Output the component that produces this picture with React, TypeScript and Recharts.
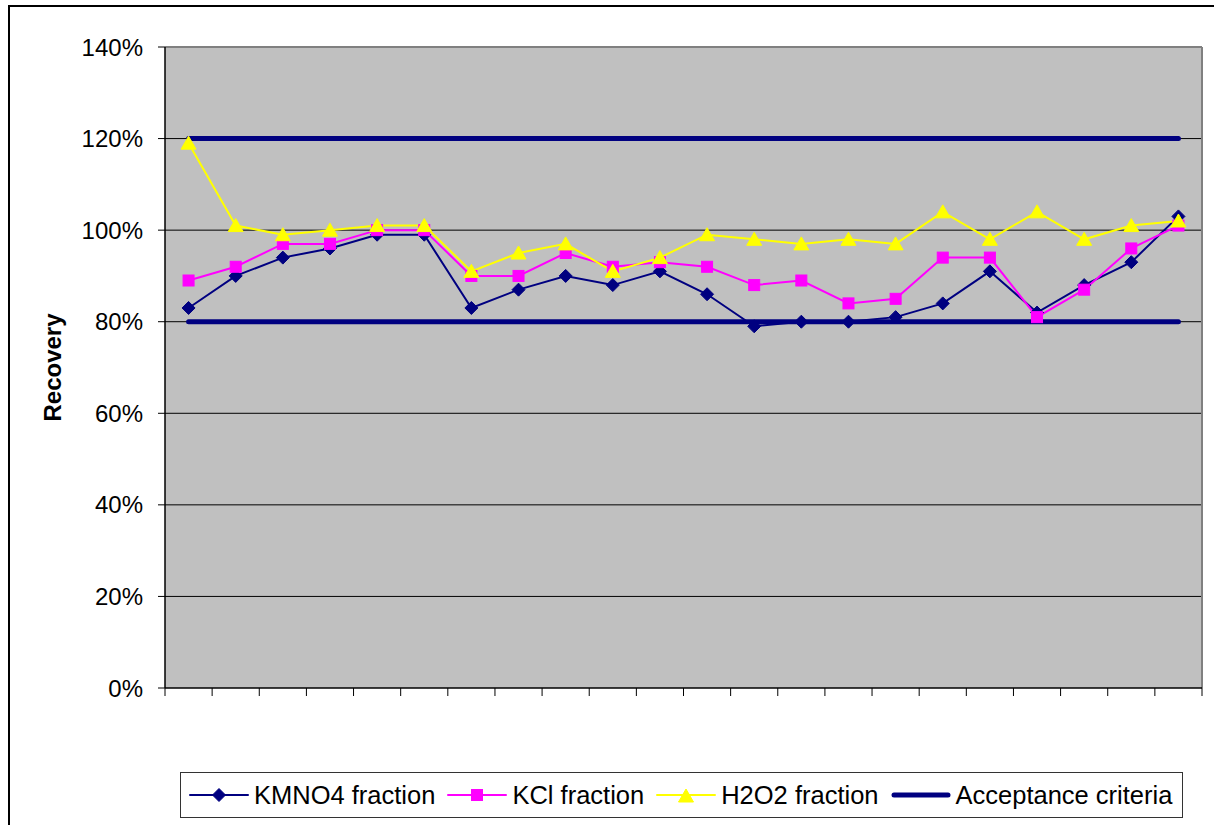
import React from 'react';
import { LineChart, Line, XAxis, YAxis, CartesianGrid, ReferenceLine } from 'recharts';

const samples = [1, 2, 3, 4, 5, 6, 7, 8, 9, 10, 11, 12, 13, 14, 15, 16, 17, 18, 19, 20, 21, 22];
const kmno4 = [83, 90, 94, 96, 99, 99, 83, 87, 90, 88, 91, 86, 79, 80, 80, 81, 84, 91, 82, 88, 93, 103];
const kcl = [89, 92, 97, 97, 100, 100, 90, 90, 95, 92, 93, 92, 88, 89, 84, 85, 94, 94, 81, 87, 96, 101];
const h2o2 = [119, 101, 99, 100, 101, 101, 91, 95, 97, 91, 94, 99, 98, 97, 98, 97, 104, 98, 104, 98, 101, 102];
const upperLimit = [120, 120, 120, 120, 120, 120, 120, 120, 120, 120, 120, 120, 120, 120, 120, 120, 120, 120, 120, 120, 120, 120];
const lowerLimit = [80, 80, 80, 80, 80, 80, 80, 80, 80, 80, 80, 80, 80, 80, 80, 80, 80, 80, 80, 80, 80, 80];
const yTicks = [0, 20, 40, 60, 80, 100, 120, 140];
const xBoundaries = [0, 1, 2, 3, 4, 5, 6, 7, 8, 9, 10, 11, 12, 13, 14, 15, 16, 17, 18, 19, 20, 21, 22];

const NAVY = '#000080';
const MAGENTA = '#FF00FF';
const YELLOW = '#FFFF00';
const FONT = '"Liberation Sans", Arial, sans-serif';

// each sample sits in the middle of its category slot
const data = samples.map((s, i) => ({
  sample: s,
  pos: i + 0.5,
  kmno4: kmno4[i],
  kcl: kcl[i],
  h2o2: h2o2[i],
  upper: upperLimit[i],
  lower: lowerLimit[i],
}));

const Diamond = (props: any) => {
  const { cx, cy } = props;
  if (cx == null || cy == null) return null;
  const r = 6.5;
  return <path d={`M${cx},${cy - r}L${cx + r},${cy}L${cx},${cy + r}L${cx - r},${cy}Z`} fill={NAVY} stroke={NAVY} />;
};

const Square = (props: any) => {
  const { cx, cy } = props;
  if (cx == null || cy == null) return null;
  const r = 5.5;
  return <rect x={cx - r} y={cy - r} width={r * 2} height={r * 2} fill={MAGENTA} stroke={MAGENTA} />;
};

const Triangle = (props: any) => {
  const { cx, cy } = props;
  if (cx == null || cy == null) return null;
  return <path d={`M${cx},${cy - 7}L${cx + 7.5},${cy + 6}L${cx - 7.5},${cy + 6}Z`} fill={YELLOW} stroke={YELLOW} />;
};

const legendItems = [
  { name: 'KMNO4 fraction', color: NAVY, width: 2, marker: 'diamond' },
  { name: 'KCl fraction', color: MAGENTA, width: 2, marker: 'square' },
  { name: 'H2O2 fraction', color: YELLOW, width: 2, marker: 'triangle' },
  { name: 'Acceptance criteria', color: NAVY, width: 5, marker: 'none' },
];

const LegendIcon = ({ item }: { item: typeof legendItems[number] }) => (
  <svg width={60} height={20} style={{ display: 'block' }}>
    <line x1={item.width > 3 ? 3 : 1} y1={10} x2={item.width > 3 ? 57 : 59} y2={10} stroke={item.color} strokeWidth={item.width} strokeLinecap="round" />
    {item.marker === 'diamond' && <Diamond cx={30} cy={10} />}
    {item.marker === 'square' && <Square cx={30} cy={10} />}
    {item.marker === 'triangle' && <Triangle cx={30} cy={11} />}
  </svg>
);

export default function App() {
  return (
    <div style={{ position: 'absolute', left: 0, top: 0, width: 1214, height: 825, background: '#fff', fontFamily: FONT, overflow: 'hidden' }}>
      <div style={{ position: 'absolute', left: 8, top: 5, width: 1220, height: 830, borderTop: '2px solid #000', borderLeft: '2px solid #000' }} />
      <LineChart
        width={1214}
        height={825}
        data={data}
        margin={{ top: 47, right: 12, left: 0, bottom: 107 }}
        style={{ position: 'absolute', left: 0, top: 0 }}
      >
        <CartesianGrid fill="#C0C0C0" vertical={false} stroke="#000" strokeOpacity={1} horizontalValues={[20, 40, 60, 80, 100, 120]} />
        <XAxis
          type="number"
          dataKey="pos"
          domain={[0, 22]}
          ticks={xBoundaries}
          tickFormatter={() => ''}
          height={30}
          tickSize={8}
          axisLine={{ stroke: '#000', strokeWidth: 1.5 }}
          tickLine={{ stroke: '#000' }}
          allowDataOverflow
        />
        <YAxis
          type="number"
          domain={[0, 140]}
          ticks={yTicks}
          tickFormatter={(v: number) => `${v}%`}
          width={165}
          tickSize={7}
          tickMargin={15}
          axisLine={{ stroke: '#000', strokeWidth: 1.5 }}
          tickLine={{ stroke: '#000' }}
          tick={{ fill: '#000', fontSize: 24, fontFamily: FONT }}
          label={{ value: 'Recovery', angle: -90, position: 'insideLeft', offset: 52, style: { textAnchor: 'middle', fontWeight: 'bold', fontSize: 24, fontFamily: FONT, fill: '#000' } }}
        />
        <ReferenceLine y={140} stroke="#808080" strokeWidth={2} />
        <ReferenceLine x={22} stroke="#808080" strokeWidth={2} />
        <Line dataKey="upper" stroke={NAVY} strokeWidth={5} strokeLinecap="round" dot={false} activeDot={false} isAnimationActive={false} />
        <Line dataKey="lower" stroke={NAVY} strokeWidth={5} strokeLinecap="round" dot={false} activeDot={false} isAnimationActive={false} />
        <Line dataKey="kmno4" stroke={NAVY} strokeWidth={2} dot={<Diamond />} activeDot={false} isAnimationActive={false} />
        <Line dataKey="kcl" stroke={MAGENTA} strokeWidth={2} dot={<Square />} activeDot={false} isAnimationActive={false} />
        <Line dataKey="h2o2" stroke={YELLOW} strokeWidth={2} dot={<Triangle />} activeDot={false} isAnimationActive={false} />
      </LineChart>
      <div
        style={{
          position: 'absolute', left: 180, top: 772, width: 1003, height: 46, boxSizing: 'border-box',
          border: '1px solid #333', display: 'flex', alignItems: 'center', paddingLeft: 8, fontSize: 25.5, color: '#000',
        }}
      >
        {legendItems.map((item) => (
          <div key={item.name} style={{ display: 'flex', alignItems: 'center', marginRight: 12 }}>
            <LegendIcon item={item} />
            <span style={{ marginLeft: 5, whiteSpace: 'nowrap' }}>{item.name}</span>
          </div>
        ))}
      </div>
    </div>
  );
}
